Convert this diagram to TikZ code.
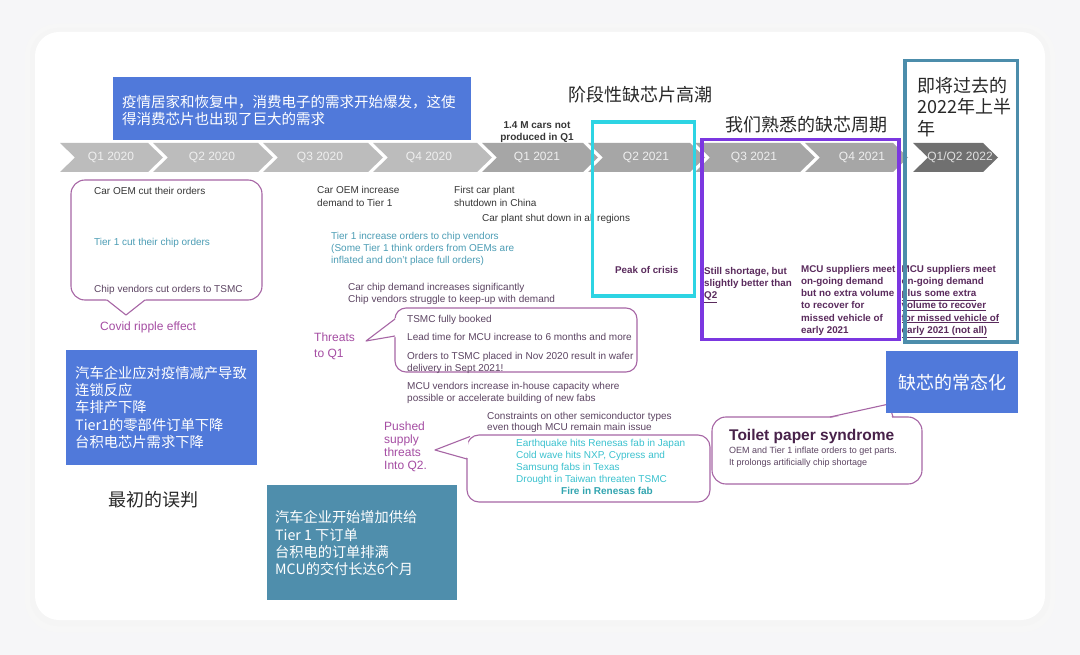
\documentclass[tikz,border=0pt]{standalone}
\usepackage{fontspec}
\setmainfont{Liberation Sans}
\newfontfamily\cjk{Noto Sans CJK SC}
\definecolor{pagebg}{HTML}{F6F6F8}
\definecolor{chevA}{HTML}{BCBCBC}
\definecolor{chevB}{HTML}{A6A6A6}
\definecolor{chevC}{HTML}{707070}
\definecolor{chevtext}{HTML}{EFEFEF}
\definecolor{blueA}{HTML}{5079DA}
\definecolor{tealbox}{HTML}{4F8EAC}
\definecolor{darktxt}{HTML}{363636}
\definecolor{titletxt}{HTML}{282828}
\definecolor{tealtxt}{HTML}{4C9DB5}
\definecolor{plumtxt}{HTML}{5C4462}
\definecolor{boldplum}{HTML}{5A2B5D}
\definecolor{labelpurple}{HTML}{A54DA3}
\definecolor{bubblec}{HTML}{A766A5}
\definecolor{cyantxt}{HTML}{3BC2CF}
\definecolor{cyanframe}{HTML}{2DD4E3}
\definecolor{purpleframe}{HTML}{7B37E0}
\definecolor{steelframe}{HTML}{4C8DAB}
\begin{document}
\begin{tikzpicture}[x=1pt,y=-1pt,
  qlabel/.style={inner sep=0, text=chevtext, font=\fontsize{12}{14}\selectfont},
  txt/.style={anchor=north west, inner sep=0, align=left, text=darktxt, font=\fontsize{10}{12.2}\selectfont},
  boldtxt/.style={txt, text=boldplum, font=\fontsize{9.8}{12.2}\selectfont\bfseries},
  label/.style={txt, text=labelpurple, font=\fontsize{12}{15.5}\selectfont},
  cjktitle/.style={inner sep=0, text=titletxt, font=\cjk\fontsize{18}{21.5}\selectfont},
  cjkbox/.style={inner sep=0, anchor=west, align=left, text=white, font=\cjk\fontsize{14.3}{17.3}\selectfont},
  panel/.style={anchor=north west, inner sep=0, fill=#1},
  bubble/.style={draw=bubblec, line width=1.1, line join=round},
  frame/.style={draw=#1, line width=3.6}
]
\useasboundingbox (0,0) rectangle (1080,655);
% page and card
\fill[pagebg] (0,0) rectangle (1080,655);
\fill[black!3, rounded corners=32] (25,24) rectangle (1055,632);
\fill[black!4, rounded corners=28] (30,28) rectangle (1050,626);
\fill[white, rounded corners=24] (35,32) rectangle (1045,620);

% chevrons
\foreach \L/\R/\c in {60/148/chevA, 153/258/chevA, 263/368/chevA, 373/477/chevA,
  482/583/chevB, 588/690/chevB, 695/800/chevB, 805/893/chevB, 913/983/chevC}
  \fill[\c] (\L,143) -- (\R,143) -- (\R+15,157.5) -- (\R,172) -- (\L,172) -- (\L+15,157.5) -- cycle;
\node[qlabel] (qa) at (111,157.5) {Q1 2020};
\node[qlabel] (qb) at (212,157.5) {Q2 2020};
\node[qlabel] (qc) at (320,157.5) {Q3 2020};
\node[qlabel] (qd) at (429,157.5) {Q4 2020};
\node[qlabel] (qe) at (537,157.5) {Q1 2021};
\node[qlabel] (qf) at (646,157.5) {Q2 2021};
\node[qlabel] (qg) at (754,157.5) {Q3 2021};
\node[qlabel] (qh) at (862,157.5) {Q4 2021};
\node[qlabel, text=black!12] (qi) at (960,157.5) {Q1/Q2 2022};

% top blue panel
\node[panel=blueA, minimum width=358, minimum height=63] (consumer) at (113,77) {};
\node[cjkbox, font=\cjk\fontsize{14.5}{17.5}\selectfont] (consumertxt) at (122,110.3)
  {疫情居家和恢复中，消费电子的需求开始爆发，这使\\得消费芯片也出现了巨大的需求};

% titles
\node[cjktitle, anchor=west] (peaktitle) at (568,95) {阶段性缺芯片高潮};
\node[cjktitle, anchor=west] (familiar) at (725,124.5) {我们熟悉的缺芯周期};
\node[cjktitle, anchor=west, align=left] (past) at (917,107) {即将过去的\\2022年上半\\年};
\node[cjktitle] (misjudge) at (153,499.5) {最初的误判};

\node[txt, anchor=north, align=center, font=\fontsize{10}{12}\selectfont\bfseries] (carsnot) at (537,121.5) {1.4 M cars not\\produced in Q1};

% left bubble
\draw[bubble, rounded corners=14] (71,180) rectangle (262,300);
\fill[white] (106,299) -- (126,314) -- (146,299) -- cycle;
\draw[bubble] (107,300) -- (126,315) -- (145,300);
\node[txt] (oemcut) at (94,187) {Car OEM cut their orders};
\node[txt, text=tealtxt] (tiercut) at (94,238) {Tier 1 cut their chip orders};
\node[txt, text=plumtxt] (chipcut) at (94,285) {Chip vendors cut orders to TSMC};
\node[label] (ripple) at (100,322) {Covid ripple effect};

% middle texts
\node[txt] (oeminc) at (317,186.5) {Car OEM increase\\demand to Tier 1};
\node[txt] (firstplant) at (454,186.5) {First car plant\\shutdown in China};
\node[txt] (allregions) at (482,214) {Car plant shut down in all regions};
\node[txt, text=tealtxt] (tierinc) at (331,232) {Tier 1 increase orders to chip vendors\\(Some Tier 1 think orders from OEMs are\\inflated and don't place full orders)};
\node[txt, text=plumtxt, font=\fontsize{10}{12}\selectfont] (chipdemand) at (348,283) {Car chip demand increases significantly\\Chip vendors struggle to keep-up with demand};

% threats bubble
\draw[bubble, rounded corners=11] (395,308) rectangle (637,372);
\fill[white] (396,318) -- (367,341) -- (396,337) -- cycle;
\draw[bubble] (395,319) -- (366,341) -- (395,336);
\node[txt, text=plumtxt] (tsmcbooked) at (407,315) {TSMC fully booked};
\node[txt, text=plumtxt] (leadtime) at (407,333) {Lead time for MCU increase to 6 months and more};
\node[txt, text=plumtxt, font=\fontsize{10}{12}\selectfont] (ordersnov) at (407,352) {Orders to TSMC placed in Nov 2020 result in wafer\\delivery in Sept 2021!};
\node[label] (threats) at (314,333) {Threats\\to Q1};
\node[txt, text=plumtxt, font=\fontsize{10}{11.8}\selectfont] (inhouse) at (407,382) {MCU vendors increase in-house capacity where\\possible or accelerate building of new fabs};
\node[txt, text=plumtxt, font=\fontsize{10}{11.5}\selectfont] (constraints) at (487,412) {Constraints on other semiconductor types\\even though MCU remain main issue};

% pushed bubble
\draw[bubble, rounded corners=12] (467,435) rectangle (710,502);
\fill[white] (469,436) -- (436,450) -- (468,458) -- (468,440) -- cycle;
\draw[bubble] (470,436.5) -- (435,450) -- (467,459);
\node[label, font=\fontsize{12}{12.9}\selectfont] (pushed) at (384,422) {Pushed\\supply\\threats\\Into Q2.};
\node[txt, text=cyantxt, font=\fontsize{10}{12}\selectfont] (earthquake) at (516,439.5) {Earthquake hits Renesas fab in Japan\\Cold wave hits NXP, Cypress and\\Samsung fabs in Texas\\Drought in Taiwan threaten TSMC};
\node[txt, anchor=north, text=cyantxt!85!black, font=\fontsize{10}{12}\selectfont\bfseries] (fire) at (607,487.5) {Fire in Renesas fab};

% toilet paper bubble
\draw[bubble, rounded corners=14] (712,417) rectangle (922,484);
\fill[white] (831,418) -- (889,405) -- (892,418) -- cycle;
\draw[bubble] (830,417) -- (889,404) -- (893,417);
\node[txt, text=boldplum!80!black, font=\fontsize{15.5}{18}\selectfont\bfseries] (toilet) at (729,429) {Toilet paper syndrome};
\node[txt, text=plumtxt, font=\fontsize{9}{12}\selectfont] (inflate) at (729,447) {OEM and Tier 1 inflate orders to get parts.\\It prolongs artificially chip shortage};

% bold texts in frames
\node[boldtxt] (peakcrisis) at (615,266) {Peak of crisis};
\node[boldtxt] (still) at (704,267) {Still shortage, but\\slightly better than\\\underline{Q2}};
\node[boldtxt] (meetone) at (801,265) {MCU suppliers meet\\on-going demand\\but no extra volume\\to recover for\\missed vehicle of\\early 2021};
\node[boldtxt] (meettwo) at (901.5,265) {MCU suppliers meet\\on-going demand\\\underline{plus some extra}\\\underline{volume to recover}\\\underline{for missed vehicle of}\\\underline{early 2021 (not all)}};

% frames
\draw[frame=cyanframe] (592.5,122) rectangle (694.5,296);
\draw[frame=purpleframe] (702,139.5) rectangle (899,339.5);
\draw[frame=steelframe] (905,60.5) rectangle (1017.5,342);

% left blue panel
\node[panel=blueA, minimum width=191, minimum height=115] (reaction) at (66,350) {};
\node[cjkbox] (reactiontxt) at (75,407.5) {汽车企业应对疫情减产导致\\连锁反应\\车排产下降\\Tier1的零部件订单下降\\台积电芯片需求下降};

% teal panel
\node[panel=tealbox, minimum width=190, minimum height=115] (supply) at (267,485) {};
\node[cjkbox, font=\cjk\fontsize{14.2}{17.2}\selectfont] (supplytxt) at (275,543.3) {汽车企业开始增加供给\\Tier 1 下订单\\台积电的订单排满\\MCU的交付长达6个月};

% right blue panel
\node[panel=blueA, minimum width=132, minimum height=62] (normal) at (886,351) {};
\node[cjktitle, text=white] (normaltxt) at (952,383) {缺芯的常态化};
\end{tikzpicture}
\end{document}
